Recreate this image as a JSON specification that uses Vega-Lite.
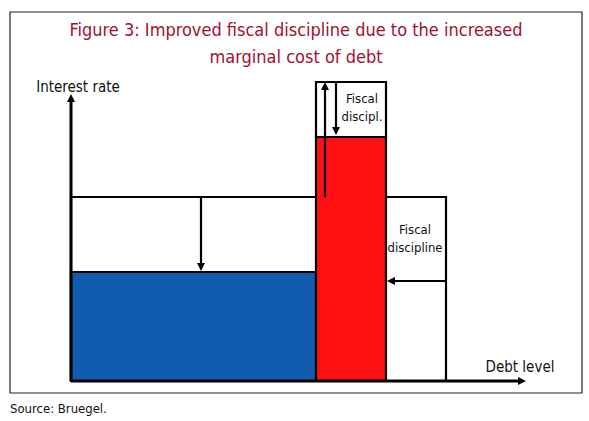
{
  "$schema": "https://vega.github.io/schema/vega-lite/v6.json",
  "width": 589,
  "height": 421,
  "autosize": {"type": "fit", "contains": "padding"},
  "padding": 0,
  "background": "white",
  "config": {"view": {"stroke": null}},
  "datasets": {
    "frame": [{"x": -61, "x2": 511, "y": 369, "y2": -12}],
    "areas": [
      {"part": "before", "x": 0, "x2": 375, "y": 0, "y2": 184},
      {"part": "core", "x": 0, "x2": 245, "y": 0, "y2": 109},
      {"part": "marginal", "x": 245, "x2": 315, "y": 0, "y2": 244},
      {"part": "top", "x": 245, "x2": 315, "y": 244, "y2": 299}
    ],
    "axes": [
      {"x": 0, "x2": 0, "y": 0, "y2": 281},
      {"x": 0, "x2": 450, "y": 0, "y2": 0}
    ],
    "arrows": [
      {"x": 130, "x2": 130, "y": 184, "y2": 114},
      {"x": 375, "x2": 320, "y": 100, "y2": 100},
      {"x": 254, "x2": 254, "y": 184, "y2": 294},
      {"x": 265, "x2": 265, "y": 299, "y2": 251}
    ],
    "heads": [
      {"x": 0, "y": 287, "dir": "up"},
      {"x": 455, "y": 0, "dir": "right"},
      {"x": 130, "y": 110, "dir": "down"},
      {"x": 316, "y": 100, "dir": "left"},
      {"x": 254, "y": 299, "dir": "up"},
      {"x": 265, "y": 246, "dir": "down"}
    ],
    "title": [
      {"x": 225, "y": 350, "label": "Figure 3: Improved fiscal discipline due to the increased"},
      {"x": 225, "y": 323, "label": "marginal cost of debt"}
    ],
    "labels": [
      {"x": 7, "y": 294, "label": "Interest rate", "size": "axis"},
      {"x": 449, "y": 14, "label": "Debt level", "size": "axis"},
      {"x": 291, "y": 282, "label": "Fiscal", "size": "note"},
      {"x": 291, "y": 264, "label": "discipl.", "size": "note"},
      {"x": 344, "y": 151, "label": "Fiscal", "size": "note"},
      {"x": 344, "y": 133, "label": "discipline", "size": "note"}
    ],
    "source": [{"x": -61, "y": -28, "label": "Source: Bruegel."}]
  },
  "layer": [
    {
      "data": {"name": "frame"},
      "mark": {"type": "rect", "fill": null, "fillOpacity": 0, "stroke": "#222222", "strokeWidth": 1.2},
      "encoding": {
        "x": {"field": "x", "type": "quantitative", "scale": {"domain": [-71, 518], "nice": false, "zero": false}, "axis": null},
        "x2": {"field": "x2"},
        "y": {"field": "y", "type": "quantitative", "scale": {"domain": [-40, 381], "nice": false, "zero": false}, "axis": null},
        "y2": {"field": "y2"}
      }
    },
    {
      "data": {"name": "areas"},
      "mark": {"type": "rect", "stroke": "black", "strokeWidth": 2.2, "opacity": 1},
      "encoding": {
        "x": {"field": "x", "type": "quantitative", "axis": null},
        "x2": {"field": "x2"},
        "y": {"field": "y", "type": "quantitative", "axis": null},
        "y2": {"field": "y2"},
        "fill": {"field": "part", "type": "nominal", "scale": {"domain": ["before", "core", "marginal", "top"], "range": ["#ffffff", "#125cb0", "#ff0f12", "#ffffff"]}, "legend": null}
      }
    },
    {
      "data": {"name": "axes"},
      "mark": {"type": "rule", "color": "black", "strokeWidth": 3},
      "encoding": {
        "x": {"field": "x", "type": "quantitative", "axis": null},
        "x2": {"field": "x2"},
        "y": {"field": "y", "type": "quantitative", "axis": null},
        "y2": {"field": "y2"}
      }
    },
    {
      "data": {"name": "arrows"},
      "mark": {"type": "rule", "color": "black", "strokeWidth": 2.2},
      "encoding": {
        "x": {"field": "x", "type": "quantitative", "axis": null},
        "x2": {"field": "x2"},
        "y": {"field": "y", "type": "quantitative", "axis": null},
        "y2": {"field": "y2"}
      }
    },
    {
      "data": {"name": "heads"},
      "mark": {"type": "point", "filled": true, "color": "black", "opacity": 1, "size": 64, "strokeWidth": 0},
      "encoding": {
        "x": {"field": "x", "type": "quantitative", "axis": null},
        "y": {"field": "y", "type": "quantitative", "axis": null},
        "shape": {"field": "dir", "type": "nominal", "scale": {"domain": ["up", "down", "left", "right"], "range": ["M0,0L-1,2L1,2Z", "M0,0L-1,-2L1,-2Z", "M0,0L2,-1L2,1Z", "M0,0L-2,-1L-2,1Z"]}, "legend": null}
      }
    },
    {
      "data": {"name": "title"},
      "mark": {"type": "text", "align": "center", "baseline": "middle", "font": "Liberation Sans Narrow, DejaVu Sans Condensed, sans-serif", "fontSize": 18, "color": "#a3102e"},
      "encoding": {
        "x": {"field": "x", "type": "quantitative", "axis": null},
        "y": {"field": "y", "type": "quantitative", "axis": null},
        "text": {"field": "label"}
      }
    },
    {
      "data": {"name": "labels"},
      "mark": {"type": "text", "align": "center", "baseline": "middle", "font": "Liberation Sans Narrow, DejaVu Sans Condensed, sans-serif", "color": "#111111"},
      "encoding": {
        "x": {"field": "x", "type": "quantitative", "axis": null},
        "y": {"field": "y", "type": "quantitative", "axis": null},
        "text": {"field": "label"},
        "size": {"field": "size", "type": "nominal", "scale": {"domain": ["axis", "note"], "range": [15, 13]}, "legend": null}
      }
    },
    {
      "data": {"name": "source"},
      "mark": {"type": "text", "align": "left", "baseline": "middle", "font": "Liberation Sans Narrow, DejaVu Sans Condensed, sans-serif", "fontSize": 13, "color": "#111111"},
      "encoding": {
        "x": {"field": "x", "type": "quantitative", "axis": null},
        "y": {"field": "y", "type": "quantitative", "axis": null},
        "text": {"field": "label"}
      }
    }
  ]
}
